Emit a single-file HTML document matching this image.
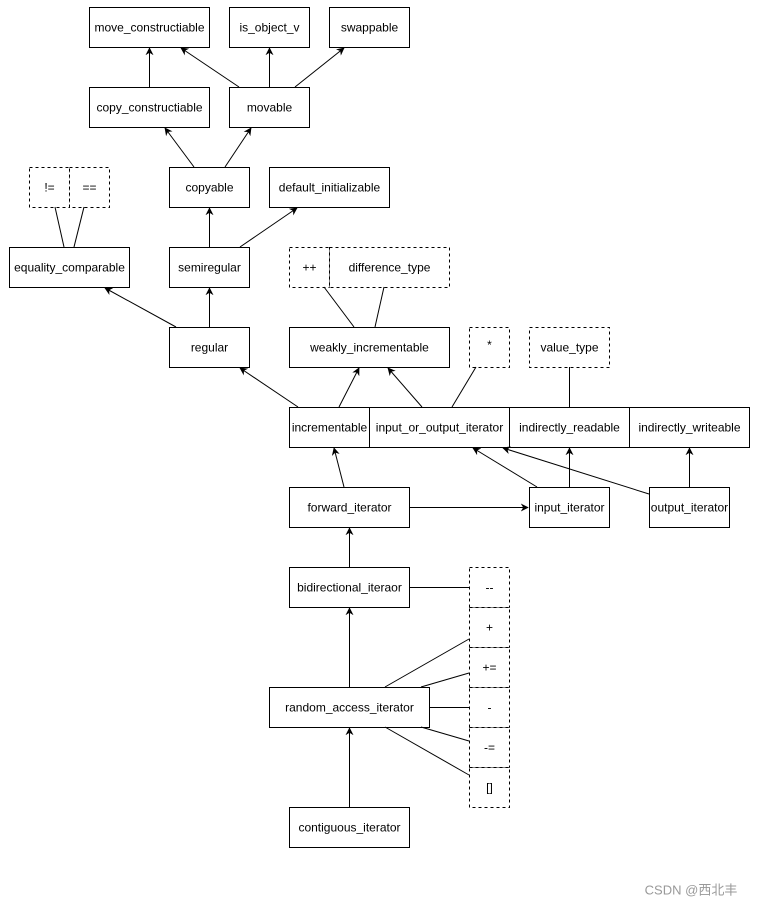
<!DOCTYPE html>
<html><head><meta charset="utf-8"><style>
html,body{margin:0;padding:0;background:#fff}
svg text{font-family:"Liberation Sans","Noto Sans CJK SC",sans-serif;font-size:12px;fill:#000;text-anchor:middle;dominant-baseline:central}
</style></head><body>
<svg width="757" height="906" viewBox="0 0 757 906" xmlns="http://www.w3.org/2000/svg">
<defs><marker id="a" viewBox="0 0 10 10" refX="9" refY="5" markerWidth="8" markerHeight="8" orient="auto"><path d="M0,0 L10,5 L0,10 L3,5 z" fill="#000"/></marker></defs>
<g fill="#fff" stroke="#000" stroke-width="1">
<rect x="89.5" y="7.5" width="120" height="40"/><rect x="229.5" y="7.5" width="80" height="40"/><rect x="329.5" y="7.5" width="80" height="40"/>
<rect x="89.5" y="87.5" width="120" height="40"/><rect x="229.5" y="87.5" width="80" height="40"/>
<rect x="169.5" y="167.5" width="80" height="40"/><rect x="269.5" y="167.5" width="120" height="40"/>
<rect x="9.5" y="247.5" width="120" height="40"/><rect x="169.5" y="247.5" width="80" height="40"/>
<rect x="169.5" y="327.5" width="80" height="40"/><rect x="289.5" y="327.5" width="160" height="40"/>
<rect x="289.5" y="407.5" width="80" height="40"/><rect x="369.5" y="407.5" width="140" height="40"/><rect x="509.5" y="407.5" width="120" height="40"/><rect x="629.5" y="407.5" width="120" height="40"/>
<rect x="289.5" y="487.5" width="120" height="40"/><rect x="529.5" y="487.5" width="80" height="40"/><rect x="649.5" y="487.5" width="80" height="40"/>
<rect x="289.5" y="567.5" width="120" height="40"/><rect x="269.5" y="687.5" width="160" height="40"/><rect x="289.5" y="807.5" width="120" height="40"/>
</g>
<g fill="#fff" stroke="#000" stroke-dasharray="3,3">
<rect x="29.5" y="167.5" width="40" height="40"/><rect x="69.5" y="167.5" width="40" height="40"/>
<rect x="289.5" y="247.5" width="40" height="40"/><rect x="329.5" y="247.5" width="120" height="40"/>
<rect x="469.5" y="327.5" width="40" height="40"/><rect x="529.5" y="327.5" width="80" height="40"/>
<rect x="469.5" y="567.5" width="40" height="40"/><rect x="469.5" y="607.5" width="40" height="40"/><rect x="469.5" y="647.5" width="40" height="40"/><rect x="469.5" y="687.5" width="40" height="40"/><rect x="469.5" y="727.5" width="40" height="40"/><rect x="469.5" y="767.5" width="40" height="40"/>
</g>
<g stroke="#000" stroke-width="1" fill="none" marker-end="url(#a)">
<line x1="149.5" y1="87" x2="149.5" y2="48"/><line x1="239" y1="87" x2="181" y2="48"/><line x1="269.5" y1="87" x2="269.5" y2="48"/><line x1="295" y1="87" x2="344" y2="48"/>
<line x1="194" y1="167" x2="165" y2="128"/><line x1="225" y1="167" x2="251" y2="128"/>
<line x1="209.5" y1="247" x2="209.5" y2="208"/><line x1="240" y1="247" x2="297" y2="208"/>
<line x1="176" y1="327" x2="105" y2="288"/><line x1="209.5" y1="327" x2="209.5" y2="288"/>
<line x1="298" y1="407" x2="240" y2="368"/><line x1="339" y1="407" x2="359" y2="368"/><line x1="422" y1="407" x2="388" y2="368"/>
<line x1="344" y1="487" x2="334" y2="448"/><line x1="409" y1="507.5" x2="528" y2="507.5"/>
<line x1="537" y1="487" x2="473" y2="448"/><line x1="569.5" y1="487" x2="569.5" y2="448"/><line x1="649" y1="494" x2="503" y2="448"/><line x1="689.5" y1="487" x2="689.5" y2="448"/>
<line x1="349.5" y1="567" x2="349.5" y2="528"/><line x1="349.5" y1="687" x2="349.5" y2="608"/><line x1="349.5" y1="807" x2="349.5" y2="728"/>
</g>
<g stroke="#000" stroke-width="1" fill="none">
<line x1="64" y1="247" x2="55" y2="207"/><line x1="74" y1="247" x2="84" y2="207"/>
<line x1="354" y1="327" x2="324" y2="287"/><line x1="375" y1="327" x2="384" y2="287"/>
<line x1="452" y1="407" x2="476" y2="367"/><line x1="569.5" y1="367" x2="569.5" y2="407"/>
<line x1="409" y1="587.5" x2="469" y2="587.5"/>
<line x1="385" y1="687" x2="469" y2="639"/><line x1="421" y1="687" x2="469" y2="673"/><line x1="429" y1="707.5" x2="469" y2="707.5"/><line x1="421" y1="727" x2="469" y2="741"/><line x1="385" y1="727" x2="469" y2="775"/>
</g>
<text x="149.5" y="27.5">move_constructiable</text><text x="269.5" y="27.5">is_object_v</text><text x="369.5" y="27.5">swappable</text>
<text x="149.5" y="107.5">copy_constructiable</text><text x="269.5" y="107.5">movable</text>
<text x="209.5" y="187.5">copyable</text><text x="329.5" y="187.5">default_initializable</text>
<text x="49.5" y="187.5">!=</text><text x="89.5" y="187.5">==</text>
<text x="69.5" y="267.5">equality_comparable</text><text x="209.5" y="267.5">semiregular</text>
<text x="309.5" y="267.5">++</text><text x="389.5" y="267.5">difference_type</text>
<text x="209.5" y="347.5">regular</text><text x="369.5" y="347.5">weakly_incrementable</text>
<text x="489.5" y="345">*</text><text x="569.5" y="347.5">value_type</text>
<text x="329.5" y="427.5">incrementable</text><text x="439.5" y="427.5">input_or_output_iterator</text><text x="569.5" y="427.5">indirectly_readable</text><text x="689.5" y="427.5">indirectly_writeable</text>
<text x="349.5" y="507.5">forward_iterator</text><text x="569.5" y="507.5">input_iterator</text><text x="689.5" y="507.5">output_iterator</text>
<text x="349.5" y="587.5">bidirectional_iteraor</text><text x="349.5" y="707.5">random_access_iterator</text><text x="349.5" y="827.5">contiguous_iterator</text>
<text x="489.5" y="587.5">--</text><text x="489.5" y="627.5">+</text><text x="489.5" y="667.5">+=</text><text x="489.5" y="707.5">-</text><text x="489.5" y="747.5">-=</text><text x="489.5" y="787.5">[]</text>
<text x="691" y="890" style="fill:#999;font-size:13px">CSDN @西北丰</text>
</svg>
</body></html>
